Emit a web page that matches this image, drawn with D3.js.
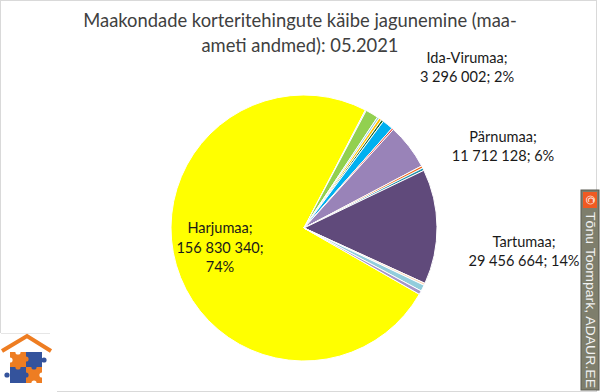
<!DOCTYPE html>
<html><head><meta charset="utf-8">
<script src="https://cdn.jsdelivr.net/npm/d3@7/dist/d3.min.js"></script>
<style>body{margin:0;background:#fff}svg{display:block}</style></head>
<body><svg id="c" width="600" height="392"></svg>
<script>
// ---- data ----
const titleLines = ["Maakondade korteritehingute käibe jagunemine (maa-", "ameti andmed): 05.2021"];
const counties = ["Harjumaa","Hiiumaa","Ida-Virumaa","Jõgevamaa","Järvamaa","Läänemaa","Lääne-Virumaa","Põlvamaa","Pärnumaa","Raplamaa","Saaremaa","Tartumaa","Valgamaa","Viljandimaa","Võrumaa"];
const turnover = [156830340, 246310, 3296002, 512400, 704850, 598200, 2802600, 451300, 11712128, 603900, 648700, 29456664, 552300, 1604500, 948200];
const sliceColors = ["#FFFF00","#B3A2C7","#92D050","#93CDDD","#FFC000","#1E6B2A","#00B0F0","#E0403A","#9983B8","#F26B1D","#1C8FA6","#604A7B","#FCD5B5","#92CDDC","#A595C7"];
const labeledCounties = ["Ida-Virumaa","Pärnumaa","Tartumaa","Harjumaa"];
const credit = "Tõnu Toompark, ADAUR.EE";

// ---- layout (not data) ----
const W = 600, H = 392, cx = 304, cy = 228, R = 133;
const labelLayout = {
  "Ida-Virumaa": {x: 467, y: 62.5, lines: 2},
  "Pärnumaa": {x: 503, y: 141.5, lines: 2},
  "Tartumaa": {x: 524, y: 246.5, lines: 2},
  "Harjumaa": {x: 220, y: 233, lines: 3}
};

const svg = d3.select("#c");
svg.append("rect").attr("x",0.5).attr("y",0.5).attr("width",596).attr("height",391)
  .attr("fill","#fff").attr("stroke","#D9D9D9");

const font = "Lato, 'Open Sans', sans-serif";

function fitText(sel, target) {
  const w = sel.node().getComputedTextLength();
  const fs = parseFloat(sel.attr("font-size"));
  sel.attr("font-size", (fs * target / w).toFixed(2));
}

// title
const tl1 = svg.append("text").attr("x",300).attr("y",27).attr("text-anchor","middle")
  .attr("font-family",font).attr("font-size",18).attr("fill","#404040").text(titleLines[0]);
fitText(tl1, 434);
svg.append("text").attr("x",300).attr("y",52).attr("text-anchor","middle")
  .attr("font-family",font).attr("font-size",tl1.attr("font-size")).attr("fill","#404040").text(titleLines[1]);

// pie
const total = d3.sum(turnover);
const share0 = turnover[0] / total;
const a0 = 27.5 * Math.PI / 180 - 2 * Math.PI * share0;
const pie = d3.pie().sort(null).value(d => d.v).startAngle(a0).endAngle(a0 + 2 * Math.PI);
const rows = counties.map((c, i) => ({name: c, v: turnover[i], color: sliceColors[i]}));
const arcs = pie(rows);
const arc = d3.arc().innerRadius(0).outerRadius(R);
const g = svg.append("g").attr("transform", `translate(${cx},${cy})`);
g.selectAll("path").data(arcs).join("path")
  .attr("d", arc).attr("fill", d => d.data.color)
  .attr("stroke", "#fff").attr("stroke-width", 1).attr("stroke-linejoin","round");

// labels
const fmtNum = v => d3.format(",")(v).replace(/,/g, " ");
let labelSize = 15;
labeledCounties.forEach(name => {
  const i = counties.indexOf(name);
  const v = turnover[i];
  const pct = Math.round(v / total * 100) + "%";
  const L = labelLayout[name];
  const lines = L.lines === 2 ? [name + ";", fmtNum(v) + "; " + pct]
                              : [name + ";", fmtNum(v) + ";", pct];
  lines.forEach((t, k) => {
    svg.append("text").attr("class","lbl").attr("x", L.x).attr("y", L.y + k * 19.5)
      .attr("text-anchor","middle").attr("font-family",font).attr("font-size",labelSize)
      .attr("fill","#1a1a1a").text(t);
  });
});
const ref = svg.selectAll("text.lbl").filter(function(){return this.textContent.startsWith("29 456");});
const wref = ref.node().getComputedTextLength();
svg.selectAll("text.lbl").attr("font-size", (labelSize * 111 / wref).toFixed(2));

// credit box
const cb = svg.append("g");
cb.append("rect").attr("x",581).attr("y",190).attr("width",18).attr("height",200)
  .attr("fill","#7E7E6C").attr("stroke","#5A5A50").attr("stroke-width",1);
cb.append("rect").attr("x",583).attr("y",192).attr("width",14).attr("height",16).attr("fill","#F05A22");
cb.append("text").attr("transform","translate(590,200) rotate(90)").attr("text-anchor","middle")
  .attr("dominant-baseline","central").attr("font-family","'DejaVu Sans', sans-serif").attr("font-size",12)
  .attr("fill","#fff").text("©");
cb.append("text").attr("transform","translate(585.5,212) rotate(90)")
  .attr("font-family","'Liberation Sans', Arial, sans-serif").attr("font-size",13.5).attr("fill","#F2F2F2")
  .attr("textLength",176).attr("lengthAdjust","spacingAndGlyphs").text(credit);

// logo
const lg = svg.append("g");
lg.append("rect").attr("x",0).attr("y",333).attr("width",57).attr("height",59).attr("fill","#fff");
lg.append("line").attr("x1",1).attr("x2",50).attr("y1",333.5).attr("y2",333.5).attr("stroke","#E6E6E6");
lg.append("polyline").attr("points","2,351 27,336 51,351").attr("fill","none")
  .attr("stroke","#EE7D22").attr("stroke-width",4);
const orange = "#EE7D22", blue = "#34539C";
lg.append("rect").attr("x",10).attr("y",352).attr("width",16).attr("height",15).attr("fill",orange);
lg.append("rect").attr("x",26).attr("y",352).attr("width",16).attr("height",15).attr("fill",blue);
lg.append("rect").attr("x",10).attr("y",367).attr("width",16).attr("height",16).attr("fill",blue);
lg.append("rect").attr("x",26).attr("y",367).attr("width",16).attr("height",16).attr("fill",orange);
[[26,359,orange],[18,367,orange],[34,367,blue],[26,375,blue],[44,360,blue],[7,375,blue],[18,352,"#fff"],[42,375,"#fff"],[10,360,"#fff"],[34,383,"#fff"]]
  .forEach(([x,y,c]) => lg.append("circle").attr("cx",x).attr("cy",y).attr("r",2.6).attr("fill",c));
</script></body></html>
